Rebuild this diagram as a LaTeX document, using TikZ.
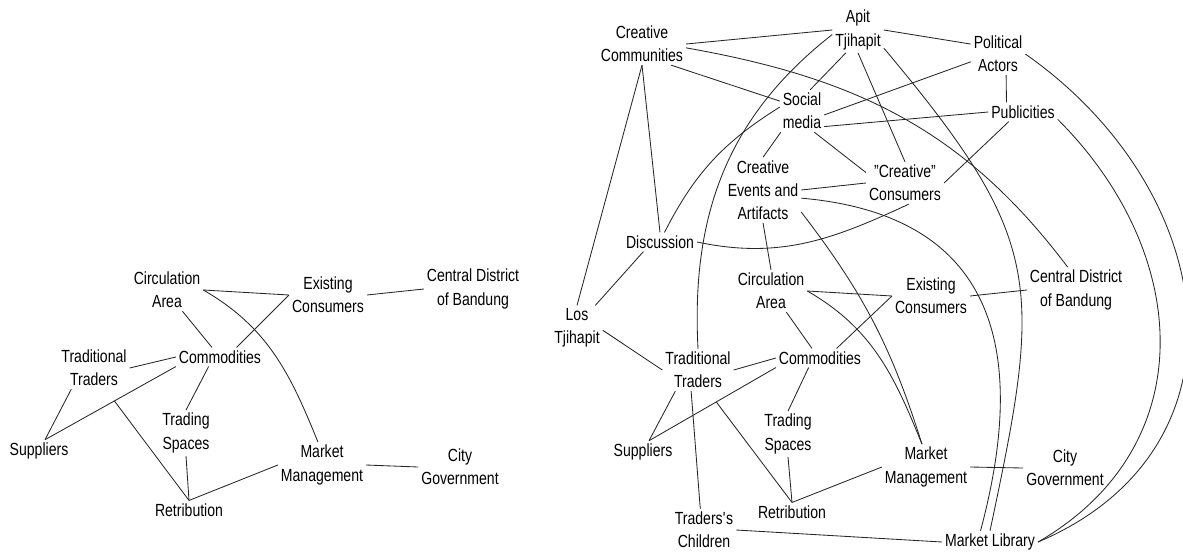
\documentclass[tikz,border=0pt]{standalone}
\usepackage{fontspec}
\setmainfont{Liberation Sans}[FakeStretch = 0.8]
\usepackage{tikz}

\begin{document}
\begin{tikzpicture}[
x = 0.025cm, y = -0.025cm,
concept/.style = {align = center, inner sep = 2pt, text = black, font = \fontsize{12.5}{16.5}\selectfont},
link/.style = {draw = black!85, line width = 0.6pt},
]
\useasboundingbox (0, 0) rectangle (1183, 553);

\node[concept] (circ1) at (167, 290) {Circulation\\Area};
\node[concept] (exist1) at (328, 295) {Existing\\Consumers};
\node[concept] (centr1) at (473, 289) {Central District\\of Bandung};
\node[concept] (trad1) at (94, 368) {Traditional\\Traders};
\node[concept] (comm1) at (220, 357) {Commodities};
\node[concept] (tsp1) at (186, 433) {Trading\\Spaces};
\node[concept] (supp1) at (39, 451) {Suppliers};
\node[concept] (mgmt1) at (322, 465) {Market\\Management};
\node[concept] (city1) at (460, 467) {City\\Government};
\node[concept] (retr1) at (189, 510) {Retribution};

\path[link] (circ1.east) edge (exist1.west);
\path[link] (comm1.30) edge (exist1.west);
\path[link] (circ1.-54) edge (comm1.130);
\path[link] (circ1.east) edge[out = -30, in = 112] (mgmt1.100);
\path[link] (exist1.east) edge (centr1.west);
\path[link] (trad1.east) edge (comm1.west);
\path[link] (trad1.223) edge (supp1.62);
\path[link] (comm1.south west) edge node[coordinate, pos = 0.47] (join1) {} (supp1.62);
\path[link] (join1) edge (retr1.north);
\path[link] (comm1.220) edge (tsp1.north);
\path[link] (tsp1.south) edge (retr1.north);
\path[link] (retr1.north) edge (mgmt1.west);
\path[link] (mgmt1.east) edge (city1.west);

\node[concept] (apit) at (858, 30) {Apit\\Tjihapit};
\node[concept] (crcom) at (642, 44) {Creative\\Communities};
\node[concept] (polit) at (998, 54) {Political\\Actors};
\node[concept] (social) at (802, 111) {Social\\media};
\node[concept] (publ) at (1023, 112) {Publicities};
\node[concept] (cevent) at (763, 190) {Creative\\Events and\\Artifacts};
\node[concept] (ccons) at (905, 183) {"Creative"\\Consumers};
\node[concept] (disc) at (660, 242) {Discussion};
\node[concept] (los) at (577, 328) {Los\\Tjihapit};
\node[concept] (circ2) at (771, 291) {Circulation\\Area};
\node[concept] (exist2) at (931, 296) {Existing\\Consumers};
\node[concept] (centr2) at (1076, 290) {Central District\\of Bandung};
\node[concept] (trad2) at (698, 370) {Traditional\\Traders};
\node[concept] (comm2) at (820, 358) {Commodities};
\node[concept] (tsp2) at (788, 434) {Trading\\Spaces};
\node[concept] (supp2) at (643, 452) {Suppliers};
\node[concept] (mgmt2) at (926, 467) {Market\\Management};
\node[concept] (city2) at (1065, 468) {City\\Government};
\node[concept] (retr2) at (792, 512) {Retribution};
\node[concept] (child) at (704, 530) {Traders\textquotesingle s\\Children};
\node[concept] (lib) at (990, 542) {Market Library};

\path[link] (circ2.east) edge (exist2.west);
\path[link] (comm2.30) edge (exist2.west);
\path[link] (circ2.-54) edge (comm2.130);
\path[link] (circ2.east) edge[out = -30, in = 112] (mgmt2.100);
\path[link] (exist2.east) edge (centr2.west);
\path[link] (trad2.east) edge (comm2.west);
\path[link] (trad2.223) edge (supp2.62);
\path[link] (comm2.south west) edge node[coordinate, pos = 0.47] (join2) {} (supp2.62);
\path[link] (join2) edge (retr2.north);
\path[link] (comm2.220) edge (tsp2.north);
\path[link] (tsp2.south) edge (retr2.north);
\path[link] (retr2.north) edge (mgmt2.west);
\path[link] (mgmt2.east) edge (city2.west);

\path[link] (crcom.east) edge (apit.west);
\path[link] (apit.east) edge (polit.160);
\path[link] (crcom.-5) edge[out = -10, in = 127] (centr2.110);
\path[link] (apit.190) edge[out = 218, in = 93] (trad2.north);
\path[link] (apit.242) edge (social.69);
\path[link] (apit.south) edge (ccons.north);
\path[link] (apit.-35) edge[out = -50, in = 78, looseness = 1.3] (lib.north);
\path[link] (crcom.-36) edge (social.156);
\path[link] (crcom.south) edge (disc.north);
\path[link] (crcom.south) edge (los.north);
\path[link] (social.170) edge[out = 212, in = 63] (disc.65);
\path[link] (social.-10) edge (polit.196);
\path[link] (social.-35) edge (publ.west);
\path[link] (social.225) edge (cevent.north);
\path[link] (social.-60) edge (ccons.165);
\path[link] (polit.-69) edge (publ.150);
\path[link] (polit.east) edge[out = -35, in = 23, looseness = 1.25] (lib.east);
\path[link] (publ.-12) edge[out = -45, in = 30, looseness = 1.15] (lib.east);
\path[link] (publ.214) edge (ccons.east);
\path[link] (cevent.east) edge (ccons.west);
\path[link] (cevent.-12) edge[out = -5, in = 75, looseness = 1.3] (lib.130);
\path[link] (cevent.south) edge (circ2.north);
\path[link] (cevent.-30) edge[bend left = 10] (mgmt2.100);
\path[link] (disc.east) edge[out = -12, in = 205] (ccons.-80);
\path[link] (disc.210) edge (los.51);
\path[link] (los.-5) edge (trad2.west);
\path[link] (trad2.-108) edge (child.100);
\path[link] (child.east) edge (lib.west);
\end{tikzpicture}
\end{document}
